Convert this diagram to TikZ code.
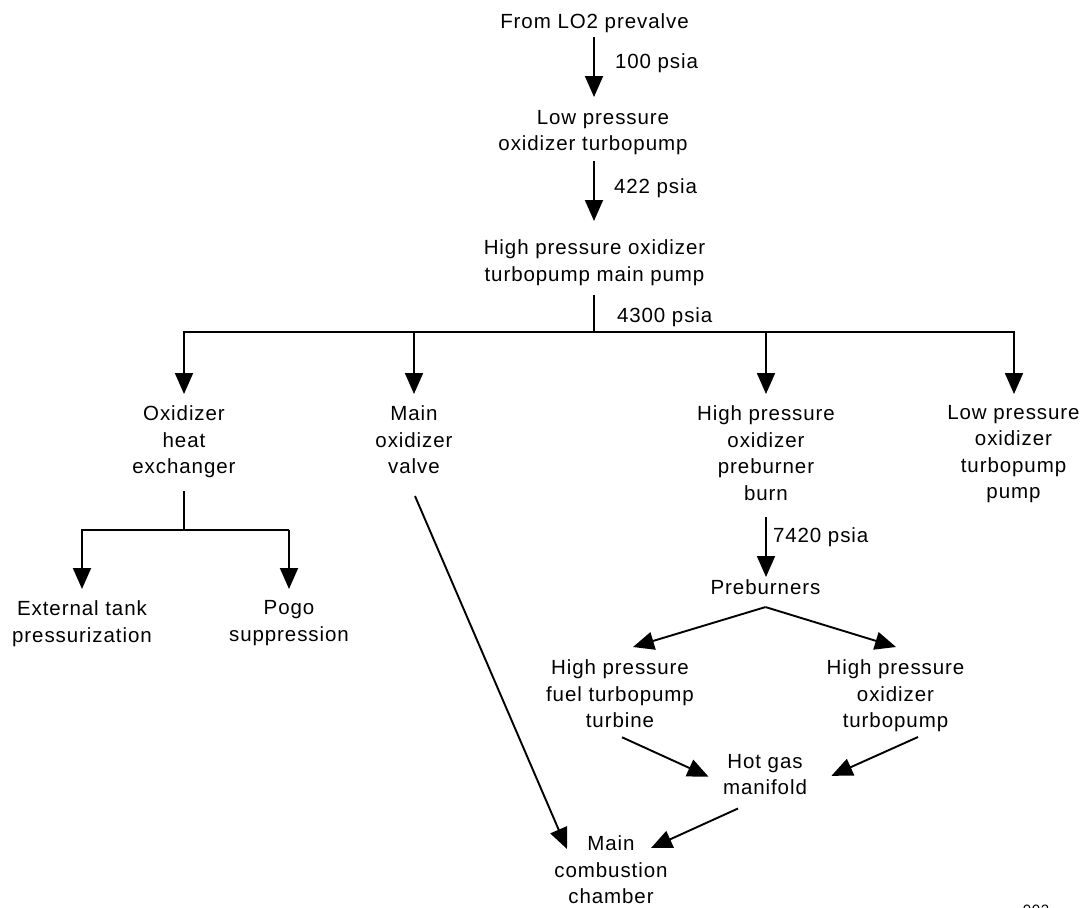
\documentclass[tikz,border=0pt]{standalone}
\usepackage{fontspec}
\setmainfont{Liberation Sans}[LetterSpace=4.5]
\usetikzlibrary{arrows.meta,calc}
\begin{document}
\begin{tikzpicture}[x=1pt,y=-1pt,
  txt/.style={font=\fontsize{20.5}{26.5}\selectfont, align=center, inner sep=0pt, outer sep=0pt, anchor=north},
  lbl/.style={font=\fontsize{20.5}{26.5}\selectfont, inner sep=0pt, outer sep=0pt, anchor=west},
  ln/.style={line width=1.9pt},
  arr/.style={line width=1.9pt, -{Triangle[width=18pt,length=21pt]}},
]
\useasboundingbox (0,0) rectangle (1088,908);

% nodes
\node[txt] (from) at (594.5,13.3) {From LO2 prevalve};
\node[txt] (lpt)  at (593,110) {\hspace*{20pt}Low pressure\\oxidizer turbopump};
\node[txt] (hpt)  at (594.5,240) {High pressure oxidizer\\turbopump main pump};

\node[txt] (ohe)  at (184,406) {Oxidizer\\heat\\exchanger};
\node[txt] (mov)  at (414,406) {Main\\oxidizer\\valve};
\node[txt] (hpb)  at (766,406) {High pressure\\oxidizer\\preburner\\burn};
\node[txt] (lpp)  at (1013.5,405) {Low pressure\\oxidizer\\turbopump\\pump};

\node[txt] (ext)  at (82,600.7) {External tank\\pressurization};
\node[txt] (pogo) at (289,600.7) {Pogo\\suppression};

\node[txt] (preb) at (765.5,580) {Preburners};
\node[txt] (hpf)  at (620,660) {High pressure\\fuel turbopump\\turbine};
\node[txt] (hpo)  at (895.5,660) {High pressure\\oxidizer\\turbopump};
\node[txt] (hgm)  at (765,754) {Hot gas\\manifold};
\node[txt] (mcc)  at (611,835.7) {Main\\combustion\\chamber};

% pressure labels
\node[lbl] (l100)  at (615,63.3)  {100 psia};
\node[lbl] (l422)  at (614,188.3) {422 psia};
\node[lbl] (l4300) at (617,316.7) {4300 psia};
\node[lbl] (l7420) at (773,537.3) {7420 psia};

% partially visible figure number (cut by the lower edge, as in the reference)
\node[font=\fontsize{15}{18}\selectfont, inner sep=0pt, anchor=north] (fig) at (1036,905) {002};

% bus coordinates
\coordinate (busM) at (594,332);
\coordinate (busL) at (183,332);
\coordinate (busR) at (1015,332);
\coordinate (b1) at (184,332);
\coordinate (b2) at (414,332);
\coordinate (b3) at (766,332);
\coordinate (b4) at (1014,332);
\coordinate (sp) at (184,530);
\coordinate (spL) at (81,530);
\coordinate (spR) at (289,530);
\coordinate (s1) at (82,530);

% main chain
\draw[arr, shorten <=4.6pt, shorten >=13pt] (from.south -| busM) -- (lpt.north -| busM);
\draw[arr, shorten <=6.4pt, shorten >=19pt] (lpt.south -| busM) -- (hpt.north -| busM);
\draw[ln, shorten <=9.4pt] (hpt.south -| busM) -- (busM);
\draw[ln] (busL) -- (busR);

\draw[arr, shorten >=12pt] (b1) -- (b1 |- ohe.north);
\draw[arr, shorten >=12pt] (b2) -- (b2 |- mov.north);
\draw[arr, shorten >=12pt] (b3) -- (b3 |- hpb.north);
\draw[arr, shorten >=11pt] (b4) -- (b4 |- lpp.north);

% heat exchanger split
\draw[ln, shorten <=13pt] (ohe.south) -- (sp);
\draw[ln] (spL) -- (spR);
\draw[arr, shorten >=11.7pt] (s1) -- (s1 |- ext.north);
\draw[arr, shorten >=11.7pt] (spR) -- (spR |- pogo.north);

% preburner branch
\draw[arr, shorten <=16.7pt, shorten >=3pt] (hpb.south) -- (hpb.south |- preb.north);
\coordinate (pbs) at ($(preb.south)+(0,12)$);
\draw[arr] (pbs) -- ($(hpf.north)+(13,-13)$);
\draw[arr] (pbs) -- ($(hpo.north)+(0.5,-13)$);

\draw[arr] ($(hpf.south)+(2,9.2)$) -- ($(hgm.west)+(-14.5,2.3)$);
\draw[arr] ($(hpo.south)+(22.5,4.9)$) -- ($(hgm.east)+(24.5,1.4)$);
\draw[arr] ($(hgm.south)+(-27,13.7)$) -- ($(mcc.north)+(40,12.3)$);
\draw[arr] ($(mov.south)+(1,22)$) -- ($(mcc.north)+(-44,13.3)$);

\end{tikzpicture}
\end{document}
